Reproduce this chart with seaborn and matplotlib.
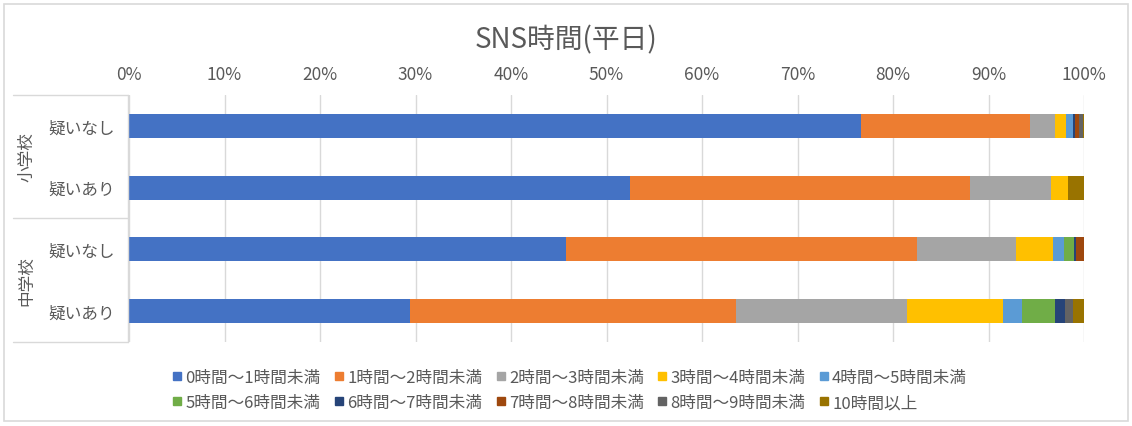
import numpy as np
import pandas as pd
import matplotlib
matplotlib.use("Agg")
import matplotlib.pyplot as plt
import seaborn as sns
from matplotlib.lines import Line2D
from matplotlib.patches import Rectangle
from matplotlib.ticker import MultipleLocator, FuncFormatter

# ---- data ----
title = "SNS時間(平日)"
groups = ["小学校", "中学校"]
row_labels = ["疑いなし", "疑いあり", "疑いなし", "疑いあり"]
series_names = ["0時間～1時間未満", "1時間～2時間未満", "2時間～3時間未満", "3時間～4時間未満",
                "4時間～5時間未満", "5時間～6時間未満", "6時間～7時間未満", "7時間～8時間未満",
                "8時間～9時間未満", "10時間以上"]
# percentages per row (小学校 疑いなし, 小学校 疑いあり, 中学校 疑いなし, 中学校 疑いあり)
h0_1  = [76.6, 52.5, 45.8, 29.4]
h1_2  = [17.7, 35.6, 36.7, 34.2]
h2_3  = [2.7, 8.4, 10.4, 17.9]
h3_4  = [1.1, 1.8, 3.9, 10.0]
h4_5  = [0.8, 0.0, 1.1, 2.0]
h5_6  = [0.0, 0.0, 1.1, 3.5]
h6_7  = [0.2, 0.0, 0.2, 1.0]
h7_8  = [0.4, 0.0, 0.8, 0.0]
h8_9  = [0.4, 0.0, 0.0, 0.9]
h10   = [0.1, 1.7, 0.0, 1.1]
colors = ["#4472C4", "#ED7D31", "#A5A5A5", "#FFC000", "#5B9BD5",
          "#70AD47", "#264478", "#9E480E", "#636363", "#997300"]

series = [h0_1, h1_2, h2_3, h3_4, h4_5, h5_6, h6_7, h7_8, h8_9, h10]

sns.set_theme(style="white")
plt.rcParams['font.family'] = ['Noto Sans CJK JP', 'DejaVu Sans']
TXT = "#595959"

W, H = 1132, 427
fig = plt.figure(figsize=(W / 100, H / 100), dpi=100)
fig.patch.set_facecolor("white")

def fx(x): return x / W
def fy(y): return 1 - y / H

# border
fig.add_artist(Rectangle((fx(4), fy(422)), fx(1128) - fx(4), fy(5) - fy(422),
                         transform=fig.transFigure, fill=False, edgecolor="#D9D9D9", lw=1.2))

ax = fig.add_axes([fx(129), fy(343), fx(1084) - fx(129), fy(96) - fy(343)])

rows = ["r0", "r1", "r2", "r3"]
arr = np.array(series)
cum = np.cumsum(arr, axis=0)
for i in range(len(series) - 1, -1, -1):
    df = pd.DataFrame({"row": rows, "val": cum[i]})
    sns.barplot(data=df, x="val", y="row", order=rows, orient="h", color=colors[i],
                saturation=1, width=0.39, linewidth=0, ax=ax)

ax.set_xlim(0, 100)
ax.set_ylim(3.5, -0.5)
ax.xaxis.set_major_locator(MultipleLocator(10))
ax.xaxis.set_major_formatter(FuncFormatter(lambda v, p: f"{v:.0f}%"))
ax.xaxis.tick_top()
ax.tick_params(axis="x", length=0, pad=9, labelsize=12.5, labelcolor=TXT)
ax.set_yticks(range(4))
ax.set_yticklabels(row_labels)
ax.tick_params(axis="y", length=0, pad=10, labelsize=12, labelcolor=TXT)
ax.set_xlabel("")
ax.set_ylabel("")
ax.grid(axis="x", color="#D9D9D9", lw=1)
ax.grid(axis="y", visible=False)
ax.set_axisbelow(True)
for s in ax.spines.values():
    s.set_visible(False)

# category group lines
lc = "#D9D9D9"
for y in (96, 219, 343):
    fig.add_artist(Line2D([fx(13), fx(128)], [fy(y), fy(y)], transform=fig.transFigure, color=lc, lw=1))
fig.add_artist(Line2D([fx(128), fx(128)], [fy(96), fy(343)], transform=fig.transFigure, color=lc, lw=1))
fig.text(fx(27), fy(157), groups[0], rotation=90, ha="center", va="center", fontsize=12, color=TXT)
fig.text(fx(27), fy(281), groups[1], rotation=90, ha="center", va="center", fontsize=12, color=TXT)

fig.text(fx(566), fy(40), title, ha="center", va="center", fontsize=20, color=TXT)

# legend
handles = [Line2D([], [], marker="s", linestyle="none", markersize=5.5,
                  markerfacecolor=c, markeredgecolor=c) for c in colors]
order = [0, 5, 1, 6, 2, 7, 3, 8, 4, 9]
leg = fig.legend([handles[i] for i in order], [series_names[i] for i in order],
                 ncol=5, loc="center", bbox_to_anchor=(fx(570), fy(391)),
                 frameon=False, fontsize=12, handlelength=0.5, handletextpad=0.25,
                 columnspacing=0.85, labelspacing=0.5, borderpad=0)
for t in leg.get_texts():
    t.set_color(TXT)

fig.savefig("out.png", dpi=100)
